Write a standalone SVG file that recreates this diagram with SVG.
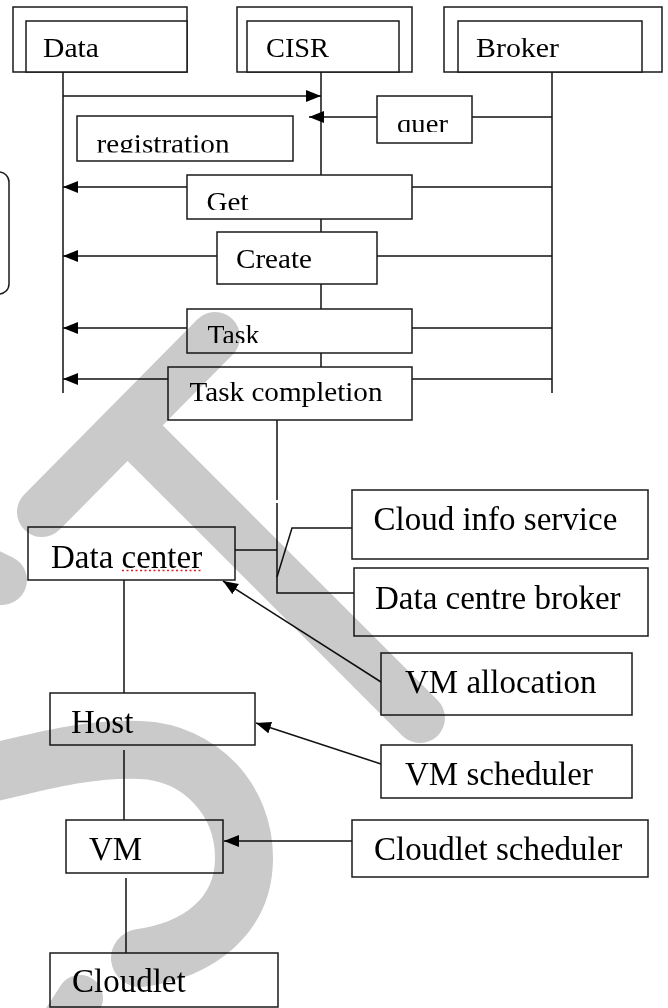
<svg xmlns="http://www.w3.org/2000/svg" width="668" height="1008" viewBox="0 0 668 1008">
<defs>
<style>
.box{fill:#fff;stroke:#1a1a1a;stroke-width:1.5}
.ln{fill:none;stroke:#111;stroke-width:1.5}
.t{font-family:"Liberation Serif","Times New Roman",serif;fill:#000}
.s{font-size:26.5px}
.b{font-size:33px}
.wm{fill:none;stroke:#cacaca;stroke-linecap:round;mix-blend-mode:multiply}
</style>
<marker id="ah" markerUnits="userSpaceOnUse" markerWidth="16" markerHeight="13" refX="15" refY="6" orient="auto">
<path d="M0,0 L15,6 L0,12 z" fill="#000"/>
</marker>
<clipPath id="cQuer"><rect x="377" y="96" width="95" height="36"/></clipPath>
<clipPath id="cReg"><rect x="77" y="116" width="216" height="36.5"/></clipPath>
<clipPath id="cGet"><rect x="187" y="175" width="225" height="35"/></clipPath>
<clipPath id="cTask"><rect x="187" y="309" width="225" height="34"/></clipPath>
</defs>
<rect width="668" height="1008" fill="#fff"/>

<g id="connectors">
<line class="ln" x1="63" y1="72" x2="63" y2="393"/>
<line class="ln" x1="321" y1="72" x2="321" y2="393"/>
<line class="ln" x1="552" y1="72" x2="552" y2="393"/>
<line class="ln" x1="63" y1="96" x2="321" y2="96" marker-end="url(#ah)"/>
<line class="ln" x1="552" y1="117" x2="472" y2="117"/>
<line class="ln" x1="377" y1="117" x2="309" y2="117" marker-end="url(#ah)"/>
<line class="ln" x1="552" y1="187" x2="412" y2="187"/>
<line class="ln" x1="187" y1="187" x2="63" y2="187" marker-end="url(#ah)"/>
<line class="ln" x1="552" y1="256" x2="377" y2="256"/>
<line class="ln" x1="217" y1="256" x2="63" y2="256" marker-end="url(#ah)"/>
<line class="ln" x1="552" y1="328" x2="412" y2="328"/>
<line class="ln" x1="187" y1="328" x2="63" y2="328" marker-end="url(#ah)"/>
<line class="ln" x1="552" y1="379" x2="412" y2="379"/>
<line class="ln" x1="168" y1="379" x2="63" y2="379" marker-end="url(#ah)"/>
<line class="ln" x1="277" y1="420" x2="277" y2="500"/>
<polyline class="ln" points="277,503 277,593 354,593"/>
<line class="ln" x1="235" y1="550" x2="277" y2="550"/>
<polyline class="ln" points="277,577 292,528 352,528"/>
<line class="ln" x1="124" y1="580" x2="124" y2="693"/>
<line class="ln" x1="124" y1="750" x2="124" y2="820"/>
<line class="ln" x1="126" y1="878" x2="126" y2="954"/>
<line class="ln" x1="381" y1="682" x2="223" y2="581" marker-end="url(#ah)"/>
<line class="ln" x1="381" y1="764" x2="256" y2="723" marker-end="url(#ah)"/>
<line class="ln" x1="352" y1="841" x2="224" y2="841" marker-end="url(#ah)"/>
</g>

<g id="hdr-data">
<path class="box" d="M13,7 H187 V72 H13 Z"/>
<path class="box" d="M26,21 H187 V72 H26 Z"/>
<text class="t s" x="43" y="57" textLength="56" lengthAdjust="spacingAndGlyphs">Data</text>
</g>
<g id="hdr-cisr">
<rect class="box" x="237" y="7" width="175" height="65"/>
<rect class="box" x="247" y="21" width="152" height="51"/>
<text class="t s" x="266" y="57" textLength="63" lengthAdjust="spacingAndGlyphs">CISR</text>
</g>
<g id="hdr-broker">
<rect class="box" x="444" y="7" width="218" height="65"/>
<rect class="box" x="458" y="21" width="184" height="51"/>
<text class="t s" x="476" y="57" textLength="83" lengthAdjust="spacingAndGlyphs">Broker</text>
</g>

<g id="side-box">
<rect x="-20" y="172" width="29" height="122" rx="10" fill="none" stroke="#1a1a1a" stroke-width="1.5"/>
</g>

<g id="msg-quer">
<rect class="box" x="377" y="96" width="95" height="47"/>
<text class="t s" x="397" y="132.5" textLength="51" lengthAdjust="spacingAndGlyphs" clip-path="url(#cQuer)">quer</text>
</g>
<g id="msg-registration">
<rect class="box" x="77" y="116" width="216" height="45"/>
<text class="t s" x="96.5" y="152.5" textLength="133" lengthAdjust="spacingAndGlyphs" clip-path="url(#cReg)">registration</text>
</g>
<g id="msg-get">
<rect class="box" x="187" y="175" width="225" height="44"/>
<text class="t s" x="206.5" y="210.5" textLength="42" lengthAdjust="spacingAndGlyphs" clip-path="url(#cGet)">Get</text>
</g>
<g id="msg-create">
<rect class="box" x="217" y="232" width="160" height="52"/>
<text class="t s" x="236" y="267.5" textLength="76" lengthAdjust="spacingAndGlyphs">Create</text>
</g>
<g id="msg-task">
<rect class="box" x="187" y="309" width="225" height="44"/>
<text class="t s" x="207.5" y="344" textLength="52" lengthAdjust="spacingAndGlyphs" clip-path="url(#cTask)">Task</text>
</g>
<g id="msg-task-completion">
<rect class="box" x="168" y="367" width="244" height="53"/>
<text class="t s" x="189.5" y="400.5" textLength="193" lengthAdjust="spacingAndGlyphs">Task completion</text>
</g>

<g id="cloud-info-service">
<rect class="box" x="352" y="490" width="296" height="69"/>
<text class="t b" x="373.5" y="529.5">Cloud info service</text>
</g>
<g id="data-centre-broker">
<rect class="box" x="354" y="568" width="294" height="68"/>
<text class="t b" x="375" y="609">Data centre broker</text>
</g>
<g id="data-center">
<rect class="box" x="28" y="527" width="207" height="53"/>
<text class="t b" x="51" y="567.5">Data center</text>
<line x1="122" y1="570.5" x2="202" y2="570.5" stroke="#e02020" stroke-width="1.5" stroke-dasharray="2 2.5"/>
</g>
<g id="vm-allocation">
<rect class="box" x="381" y="653" width="251" height="62"/>
<text class="t b" x="405" y="692.5">VM allocation</text>
</g>
<g id="host">
<rect class="box" x="50" y="693" width="205" height="52"/>
<text class="t b" x="71" y="732.5">Host</text>
</g>
<g id="vm-scheduler">
<rect class="box" x="381" y="745" width="251" height="53"/>
<text class="t b" x="405" y="784.5">VM scheduler</text>
</g>
<g id="vm">
<rect class="box" x="66" y="820" width="157" height="53"/>
<text class="t b" x="89" y="859.5">VM</text>
</g>
<g id="cloudlet-scheduler">
<rect class="box" x="352" y="820" width="296" height="57"/>
<text class="t b" x="374" y="859.5">Cloudlet scheduler</text>
</g>
<g id="cloudlet">
<rect class="box" x="50" y="953" width="228" height="54"/>
<text class="t b" x="72" y="991.5">Cloudlet</text>
</g>

<g id="watermark">
<path class="wm" stroke-width="50" d="M42,512 L215,337 M128,426 L420,718"/>
<path class="wm" stroke-width="50" d="M-40,560 L2,580"/>
<path class="wm" stroke-width="58" d="M-20,775 C30,765 80,748 140,750 C200,752 245,800 244,860 C243,915 200,950 140,958"/>
<path class="wm" stroke-width="46" d="M80,998 L40,1060"/>
</g>
</svg>
